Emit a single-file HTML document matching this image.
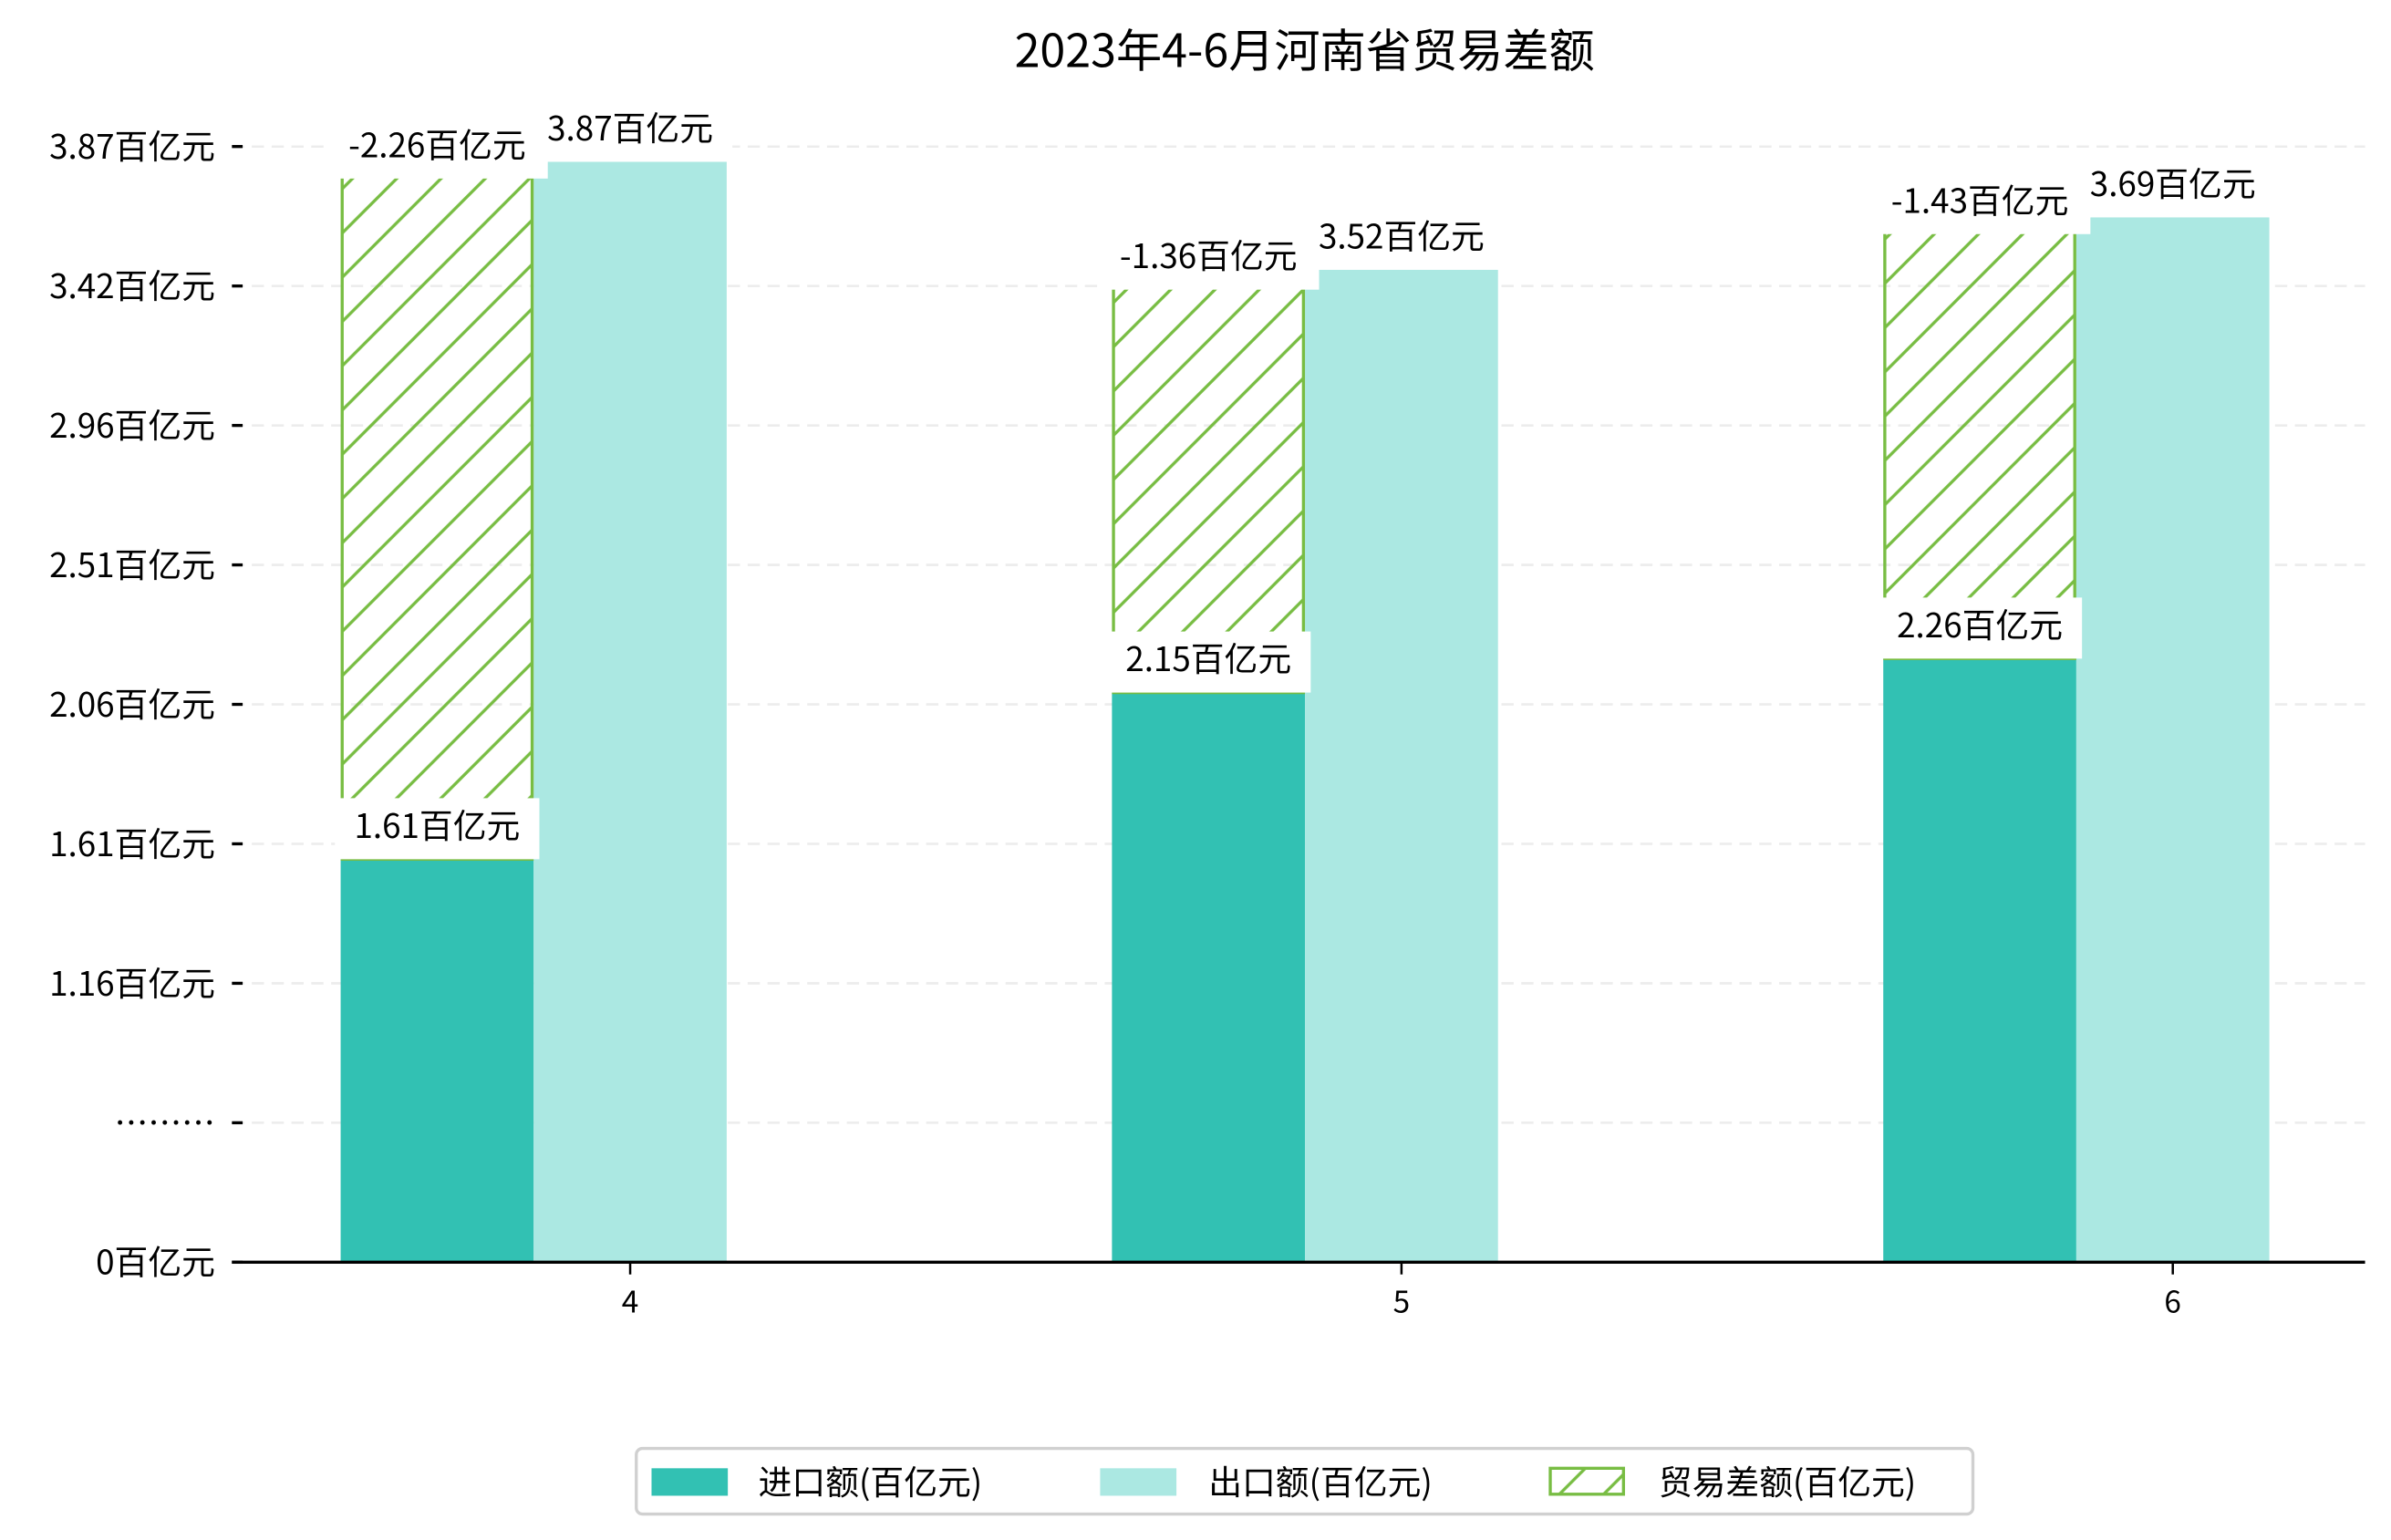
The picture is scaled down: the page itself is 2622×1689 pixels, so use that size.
<!DOCTYPE html>
<html><head><meta charset="utf-8"><style>
html,body{margin:0;padding:0;background:#fff;}
svg{display:block;}
text{font-family:"WenQuanYi Zen Hei","Noto Sans CJK SC",sans-serif;fill:#000;}
</style></head><body>
<svg id="chart" width="2622" height="1689" viewBox="0 0 1567 1009" preserveAspectRatio="none" xmlns="http://www.w3.org/2000/svg">
<defs>
<pattern id="hatch" patternUnits="userSpaceOnUse" width="29" height="29">
<path d="M-2,31 L31,-2 M-2,2 L2,-2 M27,31 L31,27" stroke="#78bd43" stroke-width="2"/>
</pattern>
</defs>
<text x="855" y="44" text-anchor="middle" font-size="30">2023年4-6月河南省贸易差额</text>
<g id="grid"></g>
<g id="bars"></g>
<g id="labels"></g>
<line x1="152" y1="827" x2="1550" y2="827" stroke="#000" stroke-width="2"/>
<g id="xticks"></g>
<g>
<rect x="417" y="949" width="876" height="43" rx="4" fill="#fff" stroke="#d0d0d0" stroke-width="2"/>
<rect x="427" y="962" width="50" height="18" fill="#32c1b3"/>
<text x="497" y="979" font-size="22">进口额(百亿元)</text>
<rect x="721" y="962" width="50" height="18" fill="#abe8e2"/>
<text x="792" y="979" font-size="22">出口额(百亿元)</text>
<rect x="1016" y="962" width="48" height="17" fill="url(#hatch)" stroke="#78bd43" stroke-width="2"/>
<text x="1087" y="979" font-size="22">贸易差额(百亿元)</text>
</g>
</svg>
<script>
const categories = ["4", "5", "6"];
const importValues = [1.61, 2.15, 2.26];
const exportValues = [3.87, 3.52, 3.69];
const balanceValues = [-2.26, -1.36, -1.43];
const yTickLabels = ["0百亿元", "………", "1.16百亿元", "1.61百亿元", "2.06百亿元", "2.51百亿元", "2.96百亿元", "3.42百亿元", "3.87百亿元"];

const NS = "http://www.w3.org/2000/svg";
function mk(tag, attrs, parent) {
  const e = document.createElementNS(NS, tag);
  for (const k in attrs) e.setAttribute(k, attrs[k]);
  parent.appendChild(e);
  return e;
}
const baseY = 827;
function yScale(v) { return Math.min(baseY, 888.5 - 202.2 * v); }
function xCenter(i) { return 413 + i * 505.5; }
function tickY(i) { return 827 - i * (827 - 96) / (yTickLabels.length - 1); }
const barW = 126.5;

const grid = document.getElementById("grid");
yTickLabels.forEach((lab, i) => {
  const y = tickY(i);
  if (i > 0) {
    const g = mk("line", {x1: 152, x2: 1550, y1: y, y2: y, stroke: "#ececec", "stroke-width": 1.5, "stroke-dasharray": "8,5"}, grid);
    
    
  }
  const t = mk("line", {x1: 152, x2: 159, y1: y, y2: y, stroke: "#000", "stroke-width": 2}, grid);
  
  
  const tx = mk("text", {x: 141, y: y + 8, "text-anchor": "end", "font-size": 22}, grid);
  tx.textContent = lab;
  
  
});

const bars = document.getElementById("bars");
const labels = document.getElementById("labels");
function label(cx, boxBottom, textY, str, name) {
  const w = str.length * 11 + 24 + (/[百亿元]/.test(str) ? 33 : 0);
  const r = mk("rect", {x: cx - w / 2, y: boxBottom - 40, width: w, height: 40, fill: "#fff"}, labels);
  
  
  const t = mk("text", {x: cx, y: textY, "text-anchor": "middle", "font-size": 22}, labels);
  t.textContent = str;
  
  
}
categories.forEach((c, i) => {
  const cx = xCenter(i);
  const yi = yScale(importValues[i]);
  const ye = yScale(exportValues[i]);
  const yb = yScale(importValues[i] - balanceValues[i]);
  const b1 = mk("rect", {x: cx - 1.5 * barW, y: yi, width: barW, height: baseY - yi, fill: "#32c1b3"}, bars);
  
  
  const b2 = mk("rect", {x: cx - 0.5 * barW, y: ye, width: barW, height: baseY - ye, fill: "#abe8e2"}, bars);
  
  
  const b3 = mk("rect", {x: cx - 1.5 * barW + 1, y: yb, width: barW - 2, height: yi - yb, fill: "url(#hatch)", stroke: "#78bd43", "stroke-width": 2}, bars);
  
  
  label(cx - barW, yi, yi - 14, importValues[i].toFixed(2) + "百亿元", 'import-value-label');
  label(cx, ye, ye - 14, exportValues[i].toFixed(2) + "百亿元", 'export-value-label');
  label(cx - barW, yb + 11, yb - 3, balanceValues[i].toFixed(2) + "百亿元", 'balance-value-label');
});

const xt = document.getElementById("xticks");
categories.forEach((c, i) => {
  const x = xCenter(i);
  const l = mk("line", {x1: x, x2: x, y1: 828, y2: 835, stroke: "#000", "stroke-width": 1.5}, xt);
  
  
  const t = mk("text", {x: x, y: 860, "text-anchor": "middle", "font-size": 20}, xt);
  t.textContent = c;
  
  
});
</script>
</body></html>
